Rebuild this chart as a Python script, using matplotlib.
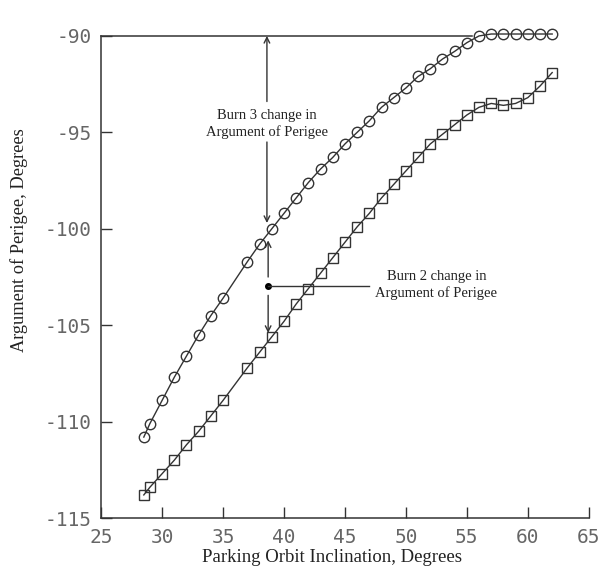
import matplotlib.pyplot as plt

# inclination, degrees (same for both curves)
incl = [28.5, 29, 30, 31, 32, 33, 34, 35,
        37, 38, 39, 40, 41, 42, 43, 44, 45, 46,
        47, 48, 49, 50, 51, 52, 53, 54, 55, 56,
        57, 58, 59, 60, 61, 62]

# burn 3 curve (circles)
arg_circle = [-110.8, -110.1, -108.9, -107.7, -106.6, -105.5, -104.5, -103.6,
              -101.7, -100.8, -100.0, -99.2, -98.4, -97.6, -96.9, -96.3, -95.6, -95.0,
              -94.4, -93.7, -93.2, -92.7, -92.1, -91.7, -91.2, -90.8, -90.35, -90.0,
              -89.9, -89.9, -89.9, -89.9, -89.9, -89.9]

# burn 2 curve (squares)
arg_square = [-113.8, -113.4, -112.7, -112.0, -111.2, -110.5, -109.7, -108.9,
              -107.2, -106.4, -105.6, -104.8, -103.9, -103.1, -102.3, -101.5, -100.7, -99.9,
              -99.2, -98.4, -97.7, -97.0, -96.3, -95.6, -95.1, -94.6, -94.1, -93.7,
              -93.5, -93.6, -93.5, -93.2, -92.6, -91.9]

xticks = [25, 30, 35, 40, 45, 50, 55, 60, 65]
yticks = [-115, -110, -105, -100, -95, -90]

ink = '#333333'
serif = ['Liberation Serif', 'DejaVu Serif']

fig = plt.figure(figsize=(6.02, 5.75), dpi=100)
ax = fig.add_axes([0.168, 0.099, 0.81, 0.8385])

ax.plot(incl, arg_circle, color=ink, lw=1, marker='o', ms=7.5,
        mfc='none', mec=ink, mew=1, clip_on=False)
ax.plot(incl, arg_square, color=ink, lw=1, marker='s', ms=7,
        mfc='none', mec=ink, mew=1, clip_on=False)

ax.set_xlim(25, 65)
ax.set_ylim(-115, -90)

for s in ['top', 'right']:
    ax.spines[s].set_visible(False)
for s in ['left', 'bottom']:
    ax.spines[s].set_color(ink)
    ax.spines[s].set_linewidth(1.1)

ax.set_xticks(xticks)
ax.set_xticklabels([str(v) for v in xticks])
ax.set_yticks(yticks)
ax.set_yticklabels(['-' + str(abs(v)) for v in yticks])
ax.tick_params(direction='in', length=8, width=1, color=ink,
               labelcolor='#666666', labelsize=14, pad=7)
for lab in ax.get_xticklabels() + ax.get_yticklabels():
    lab.set_family('DejaVu Sans Mono')

# top reference line at -90
ax.plot([25, 55.4], [-90, -90], color=ink, lw=1.1, clip_on=False)

arrow = dict(arrowstyle='->', color=ink, lw=1, shrinkA=0, shrinkB=0)

# burn 3 annotation
ax.annotate('', xy=(38.6, -90), xytext=(38.6, -93.4), arrowprops=arrow)
ax.annotate('', xy=(38.6, -99.7), xytext=(38.6, -95.5), arrowprops=arrow)
ax.text(38.6, -94.55, 'Burn 3 change in\nArgument of Perigee', ha='center',
        va='center', fontsize=10.5, family=serif, color='#222222',
        linespacing=1.3)

# burn 2 annotation
ax.plot([38.7], [-102.95], 'o', color='black', ms=4)
ax.annotate('', xy=(38.7, -100.6), xytext=(38.7, -102.5), arrowprops=arrow)
ax.annotate('', xy=(38.7, -105.4), xytext=(38.7, -103.45), arrowprops=arrow)
ax.plot([38.7, 47.0], [-102.95, -102.95], color=ink, lw=1)
ax.text(52.5, -102.9, 'Burn 2 change in\nArgument of Perigee', ha='center',
        va='center', fontsize=10.5, family=serif, color='#222222',
        linespacing=1.3)

ax.set_xlabel('Parking Orbit Inclination, Degrees', family=serif,
              fontsize=13.5, color='#222222')
ax.set_ylabel('Argument of Perigee, Degrees', family=serif,
              fontsize=13.2, color='#222222')
ax.xaxis.set_label_coords(0.473, -0.064)
ax.yaxis.set_label_coords(-0.15, 0.577)

fig.savefig('out.png', dpi=100)
